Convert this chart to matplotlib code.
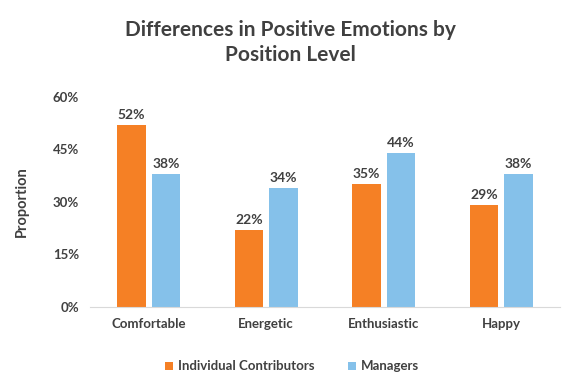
import matplotlib
matplotlib.use("Agg")
import matplotlib.pyplot as plt
import numpy as np

categories = ["Comfortable", "Energetic", "Enthusiastic", "Happy"]
individual = [0.52, 0.22, 0.35, 0.29]
managers = [0.38, 0.34, 0.44, 0.38]
yticks = [0, 0.15, 0.30, 0.45, 0.60]
ytick_labels = ["0%", "15%", "30%", "45%", "60%"]

plt.rcParams['font.family'] = ['Lato', 'DejaVu Sans']
txt = '#404040'

fig = plt.figure(figsize=(5.84, 3.89), dpi=100)
ax = fig.add_axes([0.154, 0.211, 0.805, 0.540])
x = np.arange(len(categories))
w = 0.24
off = 0.147
b1 = ax.bar(x - off, individual, w, color='#F58025', label='Individual Contributors')
b2 = ax.bar(x + off, managers, w, color='#85C1EA', label='Managers')
for bars, vals in ((b1, individual), (b2, managers)):
    for r, v in zip(bars, vals):
        ax.text(r.get_x() + r.get_width() / 2, v + 0.012, f"{round(v*100)}%",
                ha='center', va='bottom', fontsize=10, fontweight='bold', color=txt)

ax.set_xlim(-0.5, 3.5)
ax.set_ylim(0, 0.6)
ax.set_yticks(yticks)
ax.set_yticklabels(ytick_labels)
ax.set_xticks(x)
ax.set_xticklabels(categories)
for lab in ax.get_xticklabels() + ax.get_yticklabels():
    lab.set_fontweight('bold')
    lab.set_fontsize(9.5)
    lab.set_color(txt)
ax.tick_params(length=0, pad=8)
for s in ['top', 'right', 'left']:
    ax.spines[s].set_visible(False)
ax.spines['bottom'].set_color('#D9D9D9')
ax.set_ylabel('Proportion', fontsize=10.5, fontweight='bold', color=txt, labelpad=17)

fig.text(0.497, 0.891, 'Differences in Positive Emotions by\nPosition Level', ha='center', va='center',
         fontsize=15, fontweight='bold', color=txt, linespacing=1.3)

leg = fig.legend(handles=[b1, b2], loc='center', bbox_to_anchor=(0.5, 0.058), ncol=2, frameon=False,
                 handlelength=0.6, handleheight=0.6, columnspacing=2.5, handletextpad=0.4,
                 prop={'weight': 'bold', 'size': 9.5})
for t in leg.get_texts():
    t.set_color(txt)

fig.savefig('out.png', dpi=100)
